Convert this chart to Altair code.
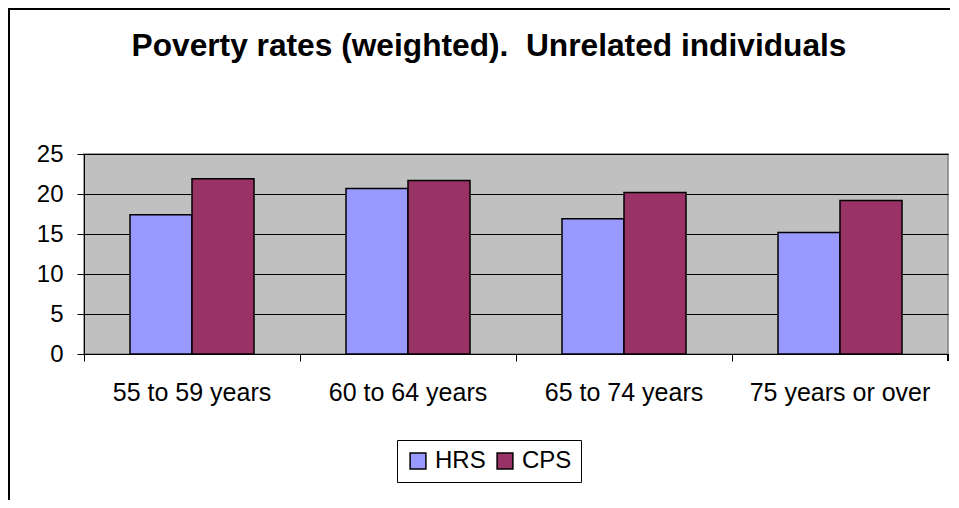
import altair as alt
import pandas as pd

title_text = "Poverty rates (weighted).\u00a0 Unrelated individuals"
categories = ["55 to 59 years", "60 to 64 years", "65 to 74 years", "75 years or over"]
series = ["HRS", "CPS"]
hrs_values = [17.4, 20.7, 16.9, 15.2]
cps_values = [21.9, 21.7, 20.2, 19.2]
colors = ["#9999FF", "#993366"]
y_ticks = [0, 5, 10, 15, 20, 25]

rows = []
for c, h, p in zip(categories, hrs_values, cps_values):
    rows.append({"category": c, "series": "HRS", "value": h})
    rows.append({"category": c, "series": "CPS", "value": p})
df = pd.DataFrame(rows)
title_df = pd.DataFrame({"t": [title_text]})

FONT = "Liberation Sans"

bars = alt.Chart(df).mark_bar(stroke="black", strokeWidth=1.5).encode(
    x=alt.X("category:N", sort=categories, title=None,
            scale=alt.Scale(paddingInner=0, paddingOuter=0),
            axis=alt.Axis(labelAngle=0, bandPosition=0, labelLimit=400,
                          tickSize=7, tickColor="black", domainColor="black",
                          labelFontSize=25, labelFont=FONT, labelColor="black",
                          labelPadding=19, grid=False)),
    xOffset=alt.XOffset("series:N", sort=series,
                        scale=alt.Scale(paddingInner=0, paddingOuter=0.742)),
    y=alt.Y("value:Q", title=None,
            scale=alt.Scale(domain=[0, 25], nice=False),
            axis=alt.Axis(values=y_ticks, tickSize=7, tickColor="black",
                          domainColor="black", gridColor="black", gridWidth=1,
                          gridOpacity=1, labelFontSize=24, labelFont=FONT,
                          labelColor="black", labelPadding=14)),
    color=alt.Color("series:N", sort=series,
                    scale=alt.Scale(domain=series, range=colors),
                    legend=alt.Legend(title=None, orient="none", legendX=313, legendY=286,
                                      direction="horizontal", symbolType="square",
                                      symbolSize=250, symbolStrokeColor="black",
                                      symbolStrokeWidth=1.5, symbolOpacity=1,
                                      labelFontSize=24, labelFont=FONT, labelColor="black",
                                      labelOffset=5, columnPadding=7, padding=9,
                                      strokeColor="black", fillColor="white")),
)

title_mark = alt.Chart(title_df).mark_text(
    font=FONT, fontSize=31.7, fontWeight="bold", color="black",
    align="center", baseline="alphabetic"
).encode(text="t:N", x=alt.value(405), y=alt.value(-98))

end_tick = alt.Chart(df).mark_rule(color="black", strokeWidth=1).encode(
    x=alt.value(864), y=alt.value(200), y2=alt.value(207)
)

frame_left = alt.Chart(df).mark_rule(color="black", strokeWidth=2).encode(
    x=alt.value(-75.5), y=alt.value(-146), y2=alt.value(360)
)
frame_top = alt.Chart(df).mark_rule(color="black", strokeWidth=2).encode(
    x=alt.value(-76), x2=alt.value(880), y=alt.value(-145.5)
)

chart = alt.layer(bars, end_tick, frame_left, frame_top, title_mark).properties(
    width=864, height=200,
    padding={"left": 76, "top": 146, "right": 2, "bottom": 146},
    autosize=alt.AutoSizeParams(type="none"),
).configure_view(fill="#C0C0C0", stroke="#808080", strokeWidth=1.5)

chart.save("out.html", embed_options={"renderer": "svg", "actions": False})
